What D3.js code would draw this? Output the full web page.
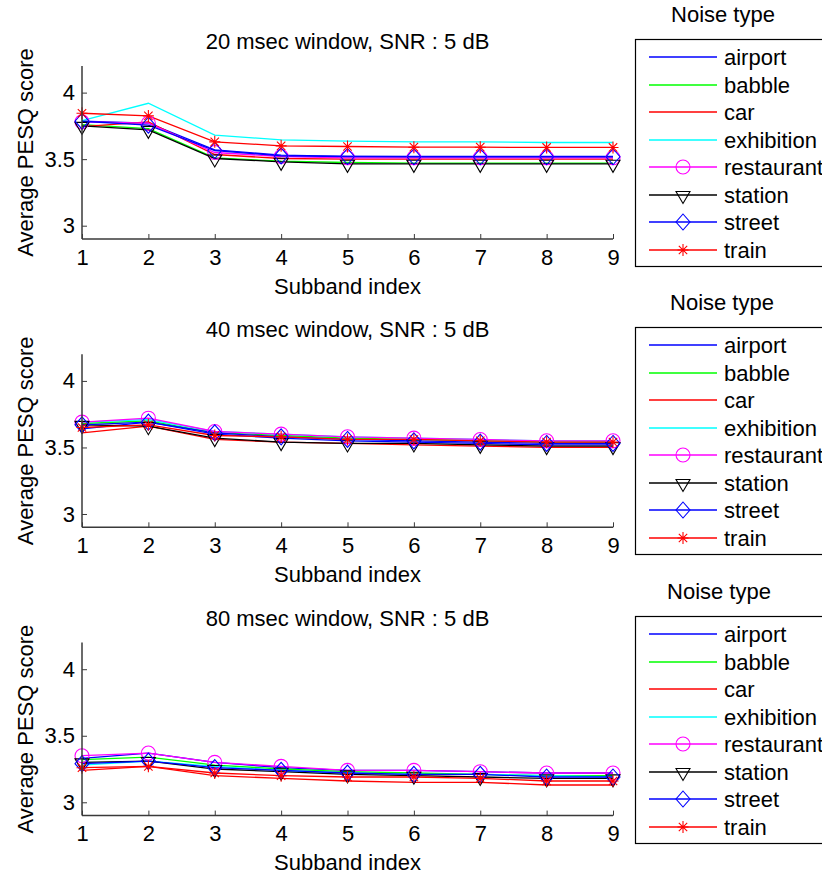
<!DOCTYPE html>
<html>
<head>
<meta charset="utf-8">
<script src="https://cdn.jsdelivr.net/npm/d3@7"></script>
<style>
  html, body { margin: 0; padding: 0; background: #fff; }
  svg { display: block; font-family: "Liberation Sans", Arial, Helvetica, sans-serif; }
</style>
</head>
<body>
<svg id="chart" width="822" height="876"></svg>
<script>
// ---------- data ----------
const subbands = [1, 2, 3, 4, 5, 6, 7, 8, 9];
const noiseTypes = ["airport", "babble", "car", "exhibition", "restaurant", "station", "street", "train"];
const seriesColors = ["#0000ff", "#00ff00", "#ff0000", "#00ffff", "#ff00ff", "#000000", "#0000ff", "#ff0000"];
const seriesMarkers = ["none", "none", "none", "none", "circle", "triangle", "diamond", "asterisk"];
const panelTitles = ["20 msec window, SNR : 5 dB", "40 msec window, SNR : 5 dB", "80 msec window, SNR : 5 dB"];
const yTicks = [3, 3.5, 4];
const yTickLabels = ["3", "3.5", "4"];
const xLabel = "Subband index";
const yLabel = "Average PESQ score";
const legendTitle = "Noise type";

// 20 msec window
const w20_airport    = [3.785, 3.770, 3.570, 3.530, 3.520, 3.520, 3.520, 3.520, 3.520];
const w20_babble     = [3.760, 3.730, 3.510, 3.485, 3.475, 3.470, 3.470, 3.470, 3.470];
const w20_car        = [3.745, 3.780, 3.535, 3.505, 3.500, 3.500, 3.500, 3.500, 3.500];
const w20_exhibition = [3.790, 3.920, 3.680, 3.645, 3.635, 3.630, 3.630, 3.625, 3.625];
const w20_restaurant = [3.780, 3.770, 3.550, 3.520, 3.510, 3.510, 3.510, 3.510, 3.510];
const w20_station    = [3.750, 3.720, 3.505, 3.480, 3.465, 3.465, 3.465, 3.465, 3.465];
const w20_street     = [3.785, 3.755, 3.565, 3.525, 3.520, 3.518, 3.518, 3.518, 3.518];
const w20_train      = [3.845, 3.825, 3.630, 3.600, 3.595, 3.590, 3.590, 3.588, 3.588];

// 40 msec window
const w40_airport    = [3.640, 3.690, 3.600, 3.570, 3.550, 3.540, 3.530, 3.520, 3.520];
const w40_babble     = [3.680, 3.700, 3.610, 3.590, 3.570, 3.560, 3.550, 3.540, 3.540];
const w40_car        = [3.610, 3.660, 3.560, 3.540, 3.530, 3.520, 3.510, 3.500, 3.500];
const w40_exhibition = [3.690, 3.710, 3.620, 3.600, 3.580, 3.570, 3.560, 3.550, 3.550];
const w40_restaurant = [3.690, 3.720, 3.620, 3.600, 3.580, 3.570, 3.560, 3.550, 3.550];
const w40_station    = [3.670, 3.660, 3.570, 3.540, 3.530, 3.530, 3.520, 3.510, 3.510];
const w40_street     = [3.670, 3.690, 3.610, 3.580, 3.560, 3.550, 3.540, 3.530, 3.530];
const w40_train      = [3.650, 3.670, 3.590, 3.580, 3.560, 3.560, 3.550, 3.540, 3.540];

// 80 msec window
const w80_airport    = [3.330, 3.370, 3.300, 3.260, 3.240, 3.240, 3.230, 3.220, 3.220];
const w80_babble     = [3.320, 3.340, 3.280, 3.250, 3.230, 3.220, 3.210, 3.200, 3.200];
const w80_car        = [3.240, 3.270, 3.200, 3.180, 3.160, 3.150, 3.150, 3.130, 3.130];
const w80_exhibition = [3.280, 3.310, 3.270, 3.240, 3.220, 3.210, 3.210, 3.200, 3.190];
const w80_restaurant = [3.350, 3.370, 3.300, 3.270, 3.240, 3.240, 3.230, 3.220, 3.220];
const w80_station    = [3.300, 3.310, 3.250, 3.230, 3.210, 3.200, 3.190, 3.180, 3.180];
const w80_street     = [3.290, 3.310, 3.260, 3.240, 3.220, 3.210, 3.210, 3.190, 3.190];
const w80_train      = [3.260, 3.270, 3.220, 3.200, 3.190, 3.190, 3.180, 3.160, 3.160];

const panelSeries = [
  [w20_airport, w20_babble, w20_car, w20_exhibition, w20_restaurant, w20_station, w20_street, w20_train],
  [w40_airport, w40_babble, w40_car, w40_exhibition, w40_restaurant, w40_station, w40_street, w40_train],
  [w80_airport, w80_babble, w80_car, w80_exhibition, w80_restaurant, w80_station, w80_street, w80_train]
];

// ---------- layout ----------
const svg = d3.select("#chart");
const FONT = 22;
const axLeft = 82, axRight = 613;
const panelTop0 = 66, panelH = 173, panelStep = 288.3;
const axisColor = "#3a3a3a";
const legendTitleX = [723, 722, 719];
const LW = 1.3;

const x = d3.scaleLinear().domain([1, 9]).range([axLeft, axRight]);

function drawMarker(g, type, color, cx, cy) {
  if (type === "circle") {
    g.append("circle").attr("cx", cx).attr("cy", cy).attr("r", 7)
      .attr("fill", "none").attr("stroke", color).attr("stroke-width", 1.1);
  } else if (type === "triangle") {
    g.append("path")
      .attr("d", `M${cx - 7},${cy - 3.5}L${cx + 7},${cy - 3.5}L${cx},${cy + 8.5}Z`)
      .attr("fill", "none").attr("stroke", color).attr("stroke-width", 1.1);
  } else if (type === "diamond") {
    g.append("path")
      .attr("d", `M${cx},${cy - 8}L${cx + 7},${cy}L${cx},${cy + 8}L${cx - 7},${cy}Z`)
      .attr("fill", "none").attr("stroke", color).attr("stroke-width", 1.1);
  } else if (type === "asterisk") {
    g.append("path")
      .attr("d", `M${cx},${cy - 6}L${cx},${cy + 6}M${cx - 5.5},${cy}L${cx + 5.5},${cy}` +
                 `M${cx - 4.2},${cy - 4.2}L${cx + 4.2},${cy + 4.2}M${cx - 4.2},${cy + 4.2}L${cx + 4.2},${cy - 4.2}`)
      .attr("fill", "none").attr("stroke", color).attr("stroke-width", 1.1);
  }
}

panelSeries.forEach((series, p) => {
  const top = panelTop0 + p * panelStep;
  const bottom = top + panelH;
  const y = d3.scaleLinear().domain([2.9, 4.2]).range([bottom, top]);
  const g = svg.append("g");

  // series lines
  const line = d3.line().x((d, i) => x(subbands[i])).y(d => y(d));
  series.forEach((vals, s) => {
    g.append("path").datum(vals).attr("d", line)
      .attr("fill", "none").attr("stroke", seriesColors[s]).attr("stroke-width", LW);
  });
  // markers
  series.forEach((vals, s) => {
    if (seriesMarkers[s] === "none") return;
    vals.forEach((v, i) => drawMarker(g, seriesMarkers[s], seriesColors[s], x(subbands[i]), y(v)));
  });

  // axes (MATLAB style, ticks inward, box off)
  const xAxis = d3.axisBottom(x).tickValues(subbands).tickSize(-5).tickPadding(12).tickFormat(d3.format("d"));
  const gx = g.append("g").attr("transform", `translate(0,${bottom})`).call(xAxis);
  const yAxis = d3.axisLeft(y).tickValues(yTicks).tickSize(-5).tickPadding(7)
    .tickFormat((d, i) => yTickLabels[i]);
  const gy = g.append("g").attr("transform", `translate(${axLeft},0)`).call(yAxis);
  [gx, gy].forEach(a => {
    a.select(".domain").attr("stroke", axisColor).attr("stroke-width", 1.5);
    a.selectAll(".tick line").attr("stroke", axisColor).attr("stroke-width", 1);
    a.selectAll(".tick text").attr("fill", "#000").attr("font-size", FONT)
      .attr("font-family", "Liberation Sans, Arial, sans-serif");
  });
  gx.selectAll(".tick text").attr("dy", null).attr("y", 25.5);
  gx.select(".domain").attr("d", `M${axLeft},0H${axRight}`);
  gy.select(".domain").attr("d", `M0,${bottom}V${top}`);

  // title & labels
  g.append("text").attr("x", (axLeft + axRight) / 2).attr("y", top - 17)
    .attr("text-anchor", "middle").attr("font-size", FONT).text(panelTitles[p]);
  g.append("text").attr("x", (axLeft + axRight) / 2).attr("y", bottom + 54.5)
    .attr("text-anchor", "middle").attr("font-size", FONT).text(xLabel);
  g.append("text").attr("transform", `translate(32.5,${(top + bottom) / 2}) rotate(-90)`)
    .attr("text-anchor", "middle").attr("font-size", FONT).text(yLabel);

  // legend
  const boxTop = Math.round(top - 27) + 0.5;
  const lg = svg.append("g");
  lg.append("rect").attr("x", 635.5).attr("y", boxTop).attr("width", 220).attr("height", 227)
    .attr("fill", "#fff").attr("stroke", "#000").attr("stroke-width", 1.2);
  lg.append("text").attr("x", legendTitleX[p]).attr("y", boxTop - 18)
    .attr("text-anchor", "middle").attr("font-size", FONT).text(legendTitle);
  noiseTypes.forEach((name, s) => {
    const cy = Math.round(boxTop + 17.5 + 27.5 * s);
    lg.append("line").attr("x1", 649).attr("x2", 717).attr("y1", cy).attr("y2", cy)
      .attr("stroke", seriesColors[s]).attr("stroke-width", 1.6);
    drawMarker(lg, seriesMarkers[s], seriesColors[s], 683, cy);
    lg.append("text").attr("x", 724).attr("y", cy).attr("dy", "0.35em")
      .attr("font-size", FONT).text(name);
  });
});
</script>
</body>
</html>
